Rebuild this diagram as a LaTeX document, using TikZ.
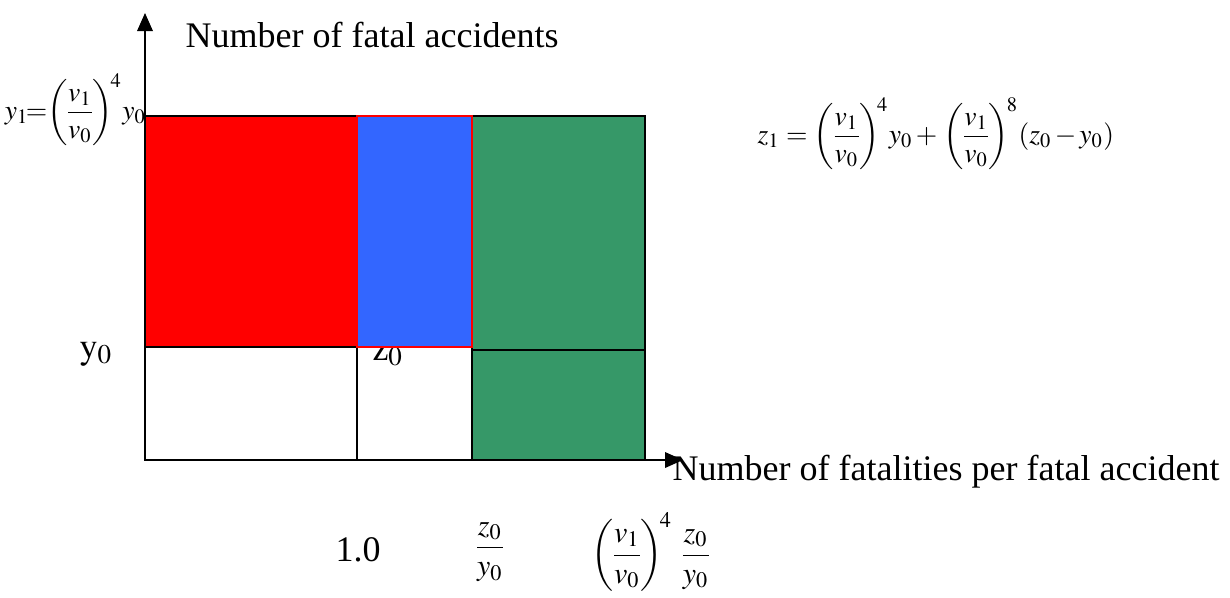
\documentclass[tikz,border=0pt]{standalone}
\usepackage{amsmath}
\usepackage{mathptmx}
\usepackage{fontspec}
\setmainfont{Liberation Serif}
\usepackage{tikz}
\usepackage{xcolor}
\usetikzlibrary{arrows.meta}

\definecolor{barred}{RGB}{255,0,0}
\definecolor{barblue}{RGB}{51,102,255}
\definecolor{bargreen}{RGB}{54,152,104}

\newcommand{\vratio}{\left(\!\frac{v_1}{v_0}\!\right)}

\begin{document}
\begin{tikzpicture}[x=0.3333pt,y=-0.3333pt,>={Triangle[length=6pt,width=5.2pt]},
    box/.style={draw=black,line width=0.6pt},
    lab/.style={font=\fontsize{12}{14}\selectfont,inner sep=0pt},
    frm/.style={font=\fontsize{10}{12}\selectfont,inner sep=0pt},
    smallfrm/.style={font=\fontsize{9.2}{11}\selectfont,inner sep=0pt}]
    \useasboundingbox (0,0) rectangle (1230,597);
    \coordinate (O) at (145,460);
    \coordinate (ytop) at (145,13);
    \coordinate (xend) at (683,460);
    % label hidden partly by the blue box
    \node[lab] (zlab) at (388,355) {z$_0$};
    % boxes
    \draw[box,fill=barred] (145,116) rectangle (357,347);
    \draw[box] (145,347) rectangle (357,460);
    \draw[box] (357,347) rectangle (472,460);
    \draw[box,fill=bargreen] (472,116) rectangle (645,350);
    \draw[box,fill=bargreen] (472,350) rectangle (645,460);
    \draw[line width=0.6pt,draw=barred,fill=barblue] (357,116) rectangle (472,347);
    % axes
    \draw[->,line width=0.5pt] (O) -- (ytop);
    \draw[->,line width=0.5pt] (O) -- (xend);
    \node[lab,anchor=west] (ylab) at (185,35) {Number of fatal accidents};
    \node[lab,anchor=west] (xlab) at (672,472) {Number of fatalities per fatal accident};
    \node[lab] (y0) at (96,354) {$\mathrm{y}_0$};
    \node[lab] (one) at (358,550) {1.0};
    \node[frm] (q1) at (490,552) {$\displaystyle\frac{z_0}{y_0}$};
    \node[frm] (q2) at (652,552) {$\displaystyle\vratio^{\!4}\,\frac{z_0}{y_0}$};
    \node[smallfrm,anchor=east] (y1) at (147,110) {$\displaystyle y_1\!{=}\!\vratio^{\!4}\!y_0$};
    \node[smallfrm,anchor=west] (z1) at (757,134) {$\displaystyle z_1 = \vratio^{\!4}\!y_0 \mskip2mu{+}\mskip2mu \vratio^{\!8}\!(z_0\mskip2mu{-}\mskip2mu y_0)$};
\end{tikzpicture}
\end{document}
